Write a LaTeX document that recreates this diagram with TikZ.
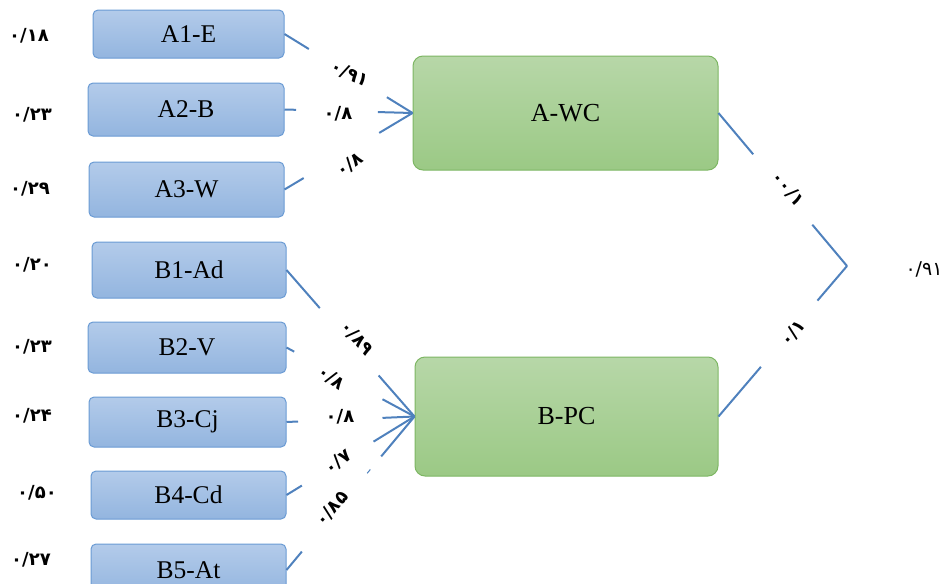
\documentclass[tikz,border=0pt]{standalone}
\usepackage{fontspec}
\setmainfont{Liberation Serif}
\newfontfamily\fa{DejaVu Sans}
\usetikzlibrary{calc}
\definecolor{lineblue}{HTML}{4F81BD}
\definecolor{bbord}{HTML}{6A9BD4}
\definecolor{btop}{HTML}{B3CBEA}
\definecolor{bbot}{HTML}{93B5DF}
\definecolor{gbord}{HTML}{7DB663}
\definecolor{gtop}{HTML}{B7D7A8}
\definecolor{gbot}{HTML}{9BC985}
\tikzset{
  bluebox/.style={draw=bbord, line width=1pt, rounded corners=5pt, top color=btop, bottom color=bbot, inner sep=0pt, font=\fontsize{25.5}{30}\selectfont},
  greenbox/.style={draw=gbord, line width=1pt, rounded corners=10pt, top color=gtop, bottom color=gbot, inner sep=0pt, font=\fontsize{26}{30}\selectfont},
  conn/.style={draw=lineblue, line width=2pt},
  coef/.style={inner sep=0pt, font={\fa\bfseries\fontsize{18}{21}\selectfont}},
  coefreg/.style={inner sep=0pt, font={\fa\fontsize{19}{22}\selectfont}}
}
\newcommand\splitline[4]{%
  \draw[conn] (#1) -- ($(#1)!#3!(#2)$);
  \draw[conn] ($(#1)!#4!(#2)$) -- (#2);}
\begin{document}
\begin{tikzpicture}[x=1pt,y=-1pt]
\useasboundingbox (0,0) rectangle (943,584);
% blue boxes
\node[bluebox, minimum width=191pt, minimum height=48pt] (a1) at (188.5,34) {A1-E};
\node[bluebox, minimum width=196pt, minimum height=53pt] (a2) at (186,109.5) {A2-B};
\node[bluebox, minimum width=195pt, minimum height=55pt] (a3) at (186.5,189.5) {A3-W};
\node[bluebox, minimum width=194pt, minimum height=56pt] (b1) at (189,270) {B1-Ad};
\node[bluebox, minimum width=198pt, minimum height=51pt] (b2) at (187,347.5) {B2-V};
\node[bluebox, minimum width=197pt, minimum height=50pt] (b3) at (187.5,422) {B3-Cj};
\node[bluebox, minimum width=195pt, minimum height=48pt] (b4) at (188.5,495) {B4-Cd};
\node[bluebox, minimum width=195pt, minimum height=52pt] (b5) at (188.5,570) {B5-At};
% green boxes
\node[greenbox, minimum width=305pt, minimum height=114pt] (awc) at (565.5,113) {A-WC};
\node[greenbox, minimum width=303pt, minimum height=119pt] (bpc) at (566.5,416.5) {B-PC};
\coordinate (c) at (847,266);
% connectors
\splitline{a1.east}{awc.west}{0.19}{0.80}
\splitline{a2.east}{awc.west}{0.09}{0.73}
\splitline{a3.east}{awc.west}{0.15}{0.74}
\splitline{b1.east}{bpc.west}{0.26}{0.72}
\splitline{b2.east}{bpc.west}{0.06}{0.75}
\splitline{b3.east}{bpc.west}{0.09}{0.75}
\splitline{b4.east}{bpc.west}{0.12}{0.68}
\splitline{b5.east}{bpc.west}{0.12}{0.74}
\draw[conn, line width=1pt] ($(b5.east)!0.63!(bpc.west)$) -- ($(b5.east)!0.655!(bpc.west)$);
\splitline{awc.east}{c}{0.27}{0.73}
\splitline{bpc.east}{c}{0.33}{0.77}
% left coefficients
\node[coef] (e1) at (29,36) {۰/۱۸};
\node[coef] (e2) at (32,115) {۰/۲۳};
\node[coef] (e3) at (30,189) {۰/۲۹};
\node[coef] (e4) at (32,265) {۰/۲۰};
\node[coef] (e5) at (32,347) {۰/۲۳};
\node[coef] (e6) at (32,416) {۰/۲۴};
\node[coef] (e7) at (37,493) {۰/۵۰};
\node[coef] (e8) at (31,560) {۰/۲۷};
% path coefficients
\node[coef, rotate=-25] (l1) at (350,74) {۰/۹۱};
\node[coef] (l2) at (338,114) {۰/۸};
\node[coef, rotate=35] (l3) at (350,165) {۰/۸};
\node[coef, rotate=-48] (l4) at (357,338) {۰/۸۹};
\node[coef, rotate=-35] (l5) at (331,378) {۰/۸};
\node[coef] (l6) at (340,417) {۰/۸};
\node[coef, rotate=38] (l7) at (338,462) {۰/۷};
\node[coef, rotate=50] (l8) at (332,509) {۰/۸۵};
\node[coef, rotate=-50] (l9) at (788,189) {۰۰/۱};
\node[coef, rotate=50] (l10) at (793,333) {۰/۱};
\node[coefreg] (r2) at (924,269) {۰/۹۱};
\end{tikzpicture}
\end{document}
